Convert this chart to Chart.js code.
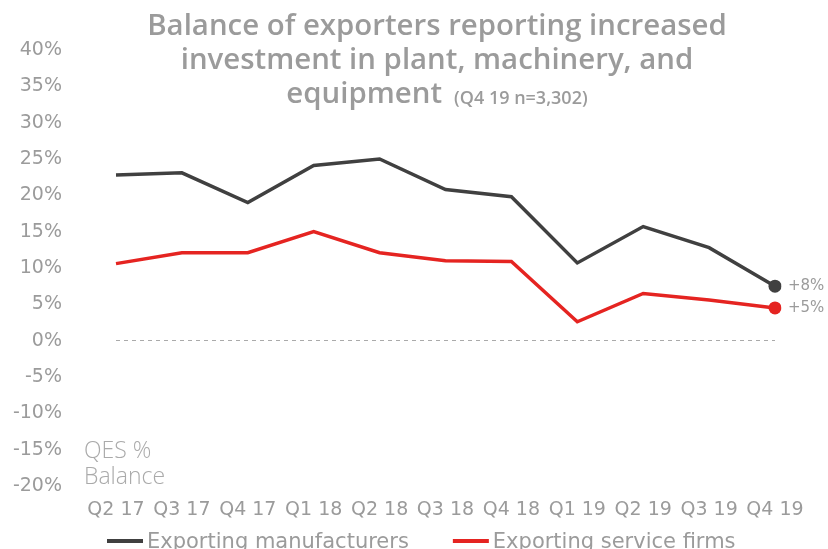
<!DOCTYPE html>
<html>
<head>
<meta charset="utf-8">
<script src="https://cdn.jsdelivr.net/npm/chart.js@4"></script>
<style>
  html, body { margin: 0; padding: 0; background: #fff; overflow: hidden; }
  #wrap { position: relative; width: 828px; height: 549px; }
</style>
</head>
<body>
<div id="wrap"><canvas id="chart"></canvas></div>
<script>
// data
const quarters = ['Q2 17', 'Q3 17', 'Q4 17', 'Q1 18', 'Q2 18', 'Q3 18', 'Q4 18', 'Q1 19', 'Q2 19', 'Q3 19', 'Q4 19'];
const manufacturers = [22.8, 23.1, 19.0, 24.1, 25.0, 20.8, 19.8, 10.7, 15.7, 12.8, 7.5];
const services      = [10.6, 12.1, 12.1, 15.0, 12.1, 11.0, 10.9, 2.6, 6.5, 5.6, 4.5];
const endLabels = ['+8%', '+5%'];
const titleLines = ['Balance of exporters reporting increased', 'investment in plant, machinery, and', 'equipment'];
const titleNote = '(Q4 19 n=3,302)';

const grey = '#9b9b9b';
const dark = '#404040';
const red = '#e52421';
const family = "'Open Sans', sans-serif";
const wide = "'DejaVu Sans', sans-serif";

const lastOnly = r => ctx => ctx.dataIndex === quarters.length - 1 ? r : 0;

const overlay = {
  id: 'overlay',
  afterDraw(chart) {
    const c = chart.ctx;
    const cx = 437;
    c.save();
    c.fillStyle = grey;
    c.textBaseline = 'middle';
    // title, sized so the first line spans the same width as the reference
    c.font = "600 27px " + family;
    const size = 27 * 579 / c.measureText(titleLines[0]).width;
    const big = "600 " + size.toFixed(1) + "px " + family;
    const small = "600 18px " + family;
    c.font = big;
    c.textAlign = 'center';
    c.fillText(titleLines[0], cx, 27);
    c.fillText(titleLines[1], cx, 61);
    const w1 = c.measureText(titleLines[2]).width;
    c.font = small;
    const w2 = c.measureText(titleNote).width;
    const start = cx - (w1 + 12 + w2) / 2;
    c.textAlign = 'left';
    c.font = big;
    c.fillText(titleLines[2], start, 95);
    c.font = small;
    c.fillText(titleNote, start + w1 + 12, 99);

    // axis caption
    c.fillStyle = '#aaa';
    c.font = "300 23px " + family;
    c.fillText('QES %', 84, 451);
    c.fillText('Balance', 84, 477);

    // end labels
    c.fillStyle = grey;
    c.font = "15px " + wide;
    chart.data.datasets.forEach((ds, i) => {
      const pt = chart.getDatasetMeta(i).data[quarters.length - 1];
      c.fillText(endLabels[i], pt.x + 13, pt.y);
    });

    // legend (line swatch right against the text, cut by the bottom edge as in the original)
    c.font = "21px " + wide;
    let x = 107;
    chart.data.datasets.forEach(ds => {
      c.fillStyle = ds.borderColor;
      c.fillRect(x, 539, 36, 4);
      x += 40;
      c.fillStyle = grey;
      c.fillText(ds.label, x, 543);
      x += c.measureText(ds.label).width + 44;
    });
    c.restore();
  }
};

new Chart(document.getElementById('chart'), {
  type: 'line',
  data: {
    labels: quarters,
    datasets: [
      {
        label: 'Exporting manufacturers',
        data: manufacturers,
        borderColor: dark,
        backgroundColor: dark,
        borderWidth: 3.5,
        tension: 0,
        pointRadius: lastOnly(6.5),
        pointHoverRadius: lastOnly(6.5),
        pointBackgroundColor: dark,
        pointBorderWidth: 0
      },
      {
        label: 'Exporting service firms',
        data: services,
        borderColor: red,
        backgroundColor: red,
        borderWidth: 3.5,
        tension: 0,
        pointRadius: lastOnly(6.5),
        pointHoverRadius: lastOnly(6.5),
        pointBackgroundColor: red,
        pointBorderWidth: 0
      }
    ]
  },
  options: {
    responsive: true,
    maintainAspectRatio: false,
    animation: false,
    layout: { padding: { top: 50, right: 53, left: 0, bottom: 0 } },
    plugins: {
      legend: { display: false },
      tooltip: { enabled: false }
    },
    scales: {
      x: {
        offset: false,
        grid: { display: false, drawTicks: false },
        border: { display: false },
        ticks: { color: grey, padding: 13, maxRotation: 0, autoSkip: false, font: { family: wide, size: 19 } },
        afterFit: s => { s.height = 63; }
      },
      y: {
        min: -20,
        max: 40,
        grid: {
          drawTicks: false,
          color: ctx => ctx.tick && ctx.tick.value === 0 ? '#aaa' : 'transparent',
          lineWidth: 1
        },
        border: { display: false, dash: [4, 4] },
        ticks: {
          stepSize: 5,
          padding: 54,
          color: grey,
          font: { family: wide, size: 19 },
          callback: v => v + '%'
        },
        afterFit: s => { s.width = 116; s.paddingTop = 0; s.paddingBottom = 0; }
      }
    }
  },
  plugins: [overlay]
});
</script>
</body>
</html>
